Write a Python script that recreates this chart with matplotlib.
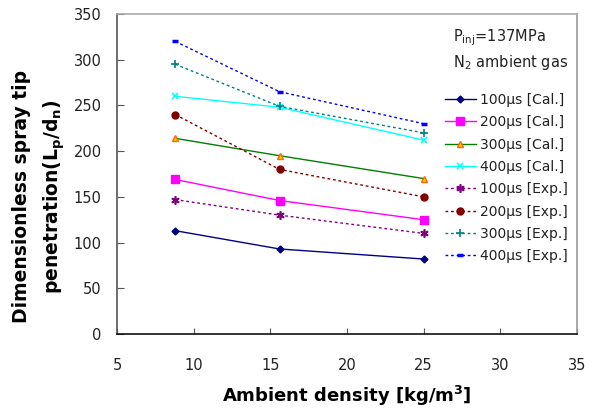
import matplotlib
matplotlib.use("Agg")
import matplotlib.pyplot as plt

plt.rcParams['font.family'] = ['DejaVu Sans']

density = [8.8, 15.6, 25.0]

cal_100 = [113, 93, 82]
cal_200 = [169, 146, 125]
cal_300 = [214, 195, 170]
cal_400 = [260, 248, 212]
exp_100 = [147, 130, 110]
exp_200 = [240, 180, 150]
exp_300 = [295, 249, 220]
exp_400 = [320, 265, 230]

labels = ["100μs [Cal.]", "200μs [Cal.]", "300μs [Cal.]", "400μs [Cal.]",
          "100μs [Exp.]", "200μs [Exp.]", "300μs [Exp.]", "400μs [Exp.]"]

xticks = [5, 10, 15, 20, 25, 30, 35]
yticks = [0, 50, 100, 150, 200, 250, 300, 350]

fig = plt.figure(figsize=(6.02, 4.11), dpi=100)
ax = fig.add_axes([117/602, 77/411, 460/602, 320/411])

dot = (0, (2, 2))
ax.plot(density, cal_100, color='#000080', lw=1, marker='D', ms=3.5, mfc='#000080', mec='#000080', label=labels[0])
ax.plot(density, cal_200, color='#FF00FF', lw=1, marker='s', ms=5.5, mfc='#FF00FF', mec='#FF00FF', label=labels[1])
ax.plot(density, cal_300, color='#008000', lw=1, marker='^', ms=5, mfc='#FFCC00', mec='#FF6600', mew=1, label=labels[2])
ax.plot(density, cal_400, color='#00FFFF', lw=1, marker='x', ms=5, mec='#00FFFF', mew=1.2, label=labels[3])
ax.plot(density, exp_100, color='#800080', lw=1, ls=dot, marker=(6, 2, 0), ms=6, mec='#800080', mew=1.2, label=labels[4])
ax.plot(density, exp_200, color='#800000', lw=1, ls=dot, marker='o', ms=5, mfc='#800000', mec='#800000', label=labels[5])
ax.plot(density, exp_300, color='#008080', lw=1, ls=dot, marker='+', ms=6, mec='#008080', mew=1.2, label=labels[6])
ax.plot(density, exp_400, color='#0000FF', lw=1, ls=dot, marker='_', ms=5, mec='#0000FF', mew=2.5, label=labels[7])

ax.set_xlim(5, 35)
ax.set_ylim(0, 350)
ax.set_xticks(xticks)
ax.set_yticks(yticks)
ax.tick_params(axis='x', direction='in', length=4, pad=17, labelsize=10.5, color='#555555')
ax.tick_params(axis='y', direction='in', length=5, pad=11, labelsize=10.5, color='#555555')
for lab in ax.get_xticklabels() + ax.get_yticklabels():
    lab.set_color('#222222')

ax.spines['left'].set_color('#555555')
ax.spines['bottom'].set_color('#111111')
ax.spines['top'].set_color('#AAAAAA')
ax.spines['right'].set_color('#999999')
for s in ax.spines.values():
    s.set_linewidth(1.2)

ax.set_xlabel('Ambient density [kg/m$^\\mathbf{3}$]', fontsize=13, fontweight='bold', labelpad=8)
ax.set_ylabel('Dimensionless spray tip\npenetration(L$_\\mathbf{p}$/d$_\\mathbf{n}$)', fontsize=13.5,
              fontweight='bold', linespacing=1.65)
ax.yaxis.set_label_coords(-0.108, 0.43)

ax.text(453/602, 1 - 38/411, 'P$_{\\mathrm{inj}}$=137MPa', transform=fig.transFigure,
        fontsize=10.5, va='center', ha='left', color='#222222')
ax.text(453/602, 1 - 63/411, 'N$_2$ ambient gas', transform=fig.transFigure,
        fontsize=10.5, va='center', ha='left', color='#222222')

leg = ax.legend(loc='upper left', bbox_to_anchor=(445/602, 1 - 93/411), bbox_transform=fig.transFigure,
                frameon=False, fontsize=10, handlelength=2.2, handletextpad=0.3,
                labelspacing=0.6, borderpad=0, borderaxespad=0)
for t in leg.get_texts():
    t.set_color('#222222')

fig.savefig('out.png', dpi=100)
